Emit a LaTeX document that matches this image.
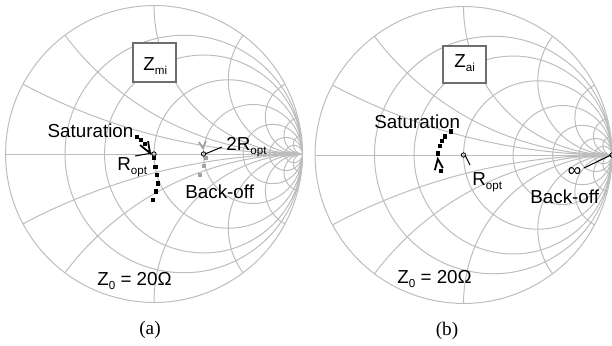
\documentclass[border=0pt]{standalone}
\usepackage{pgfplots}
\pgfplotsset{compat=1.18}
\usepgfplotslibrary{smithchart}
\usepackage{fontspec}
\setmainfont{Liberation Sans}
\newfontfamily\capfont{Liberation Serif}

\definecolor{gridgray}{HTML}{BDBDBD}
\definecolor{dotgray}{HTML}{A3A3A3}
\definecolor{boxgray}{HTML}{6E6E6E}

% low subscript like the reference (opt, mi, ai, 0)
\newcommand{\lowsub}[1]{\raisebox{-0.25em}{\fontsize{5.8bp}{6bp}\selectfont #1}}

\pgfplotsset{
  refsmith/.style={
    scale only axis, width=148.5bp, height=148.5bp,
    anchor=center, clip=false,
    xtick={0.25,0.5,1,2,4,8,16},
    ytick={-16,-8,-4,-2,-1,-0.5,-0.25,0.25,0.5,1,2,4,8,16},
    minor xtick={}, minor ytick={},
    xticklabel={\relax}, yticklabel={\relax},
    xticklabel style={opacity=0}, yticklabel style={opacity=0},
    major tick length=0pt, minor tick length=0pt,
    tick style={draw=none},
    grid=major,
    major grid style={gridgray, line width=0.5bp},
    axis line style={gridgray, line width=0.5bp},
  },
  satdots/.style={only marks, mark=square*, mark size=0.85bp, black},
  bodots/.style={only marks, mark=square*, mark size=0.8bp, dotgray},
  refpt/.style={only marks, mark=o, mark size=1.1bp, black, line width=0.4bp,
    mark options={fill=white}},
}

\begin{document}
\begin{tikzpicture}[x=0.5bp, y=0.5bp,
  lbl/.style={font=\fontsize{9.4bp}{11bp}\selectfont, inner sep=0pt}]
\useasboundingbox (0,0) rectangle (612,345);

% ---------------- (a) Z_mi ----------------
\begin{smithchart}[refsmith, at={(77bp,95.5bp)}]
% saturation sweep (reflection coefficient)
\addplot[satdots, is smithchart cs] coordinates {
  (-0.114,0.114) (-0.087,0.094) (-0.062,0.069)
  (0.000,-0.027) (0.009,-0.085) (0.018,-0.141)
  (0.025,-0.197) (0.013,-0.253) (-0.009,-0.309)
};
\addplot[black, line width=0.9bp, is smithchart cs] coordinates {
  (-0.040,0.087) (-0.027,0.007) (-0.094,0.060)
};
% back-off sweep
\addplot[bodots, is smithchart cs] coordinates {
  (0.349,-0.027) (0.336,-0.081) (0.309,-0.141)
};
\addplot[dotgray, line width=0.9bp, is smithchart cs] coordinates {
  (0.302,0.081) (0.329,0.040) (0.349,0.087)
};
\addplot[refpt, is smithchart cs] coordinates {(0,0) (0.3333,0)};
\end{smithchart}

\draw[black, line width=0.5bp] (135,189) -- (152,192);
\draw[black, line width=0.5bp] (205,191) -- (222,198);
\node[lbl, anchor=base] at (90.5,208) {Saturation};
\node[lbl, anchor=base west] at (117,175) {R\lowsub{opt}};
\node[lbl, anchor=base west] at (226,195) {2R\lowsub{opt}};
\node[lbl, anchor=base west] at (185,147) {Back-off};
\draw[boxgray, line width=0.7bp, fill=white] (133,302) rectangle (176,263);
\node[lbl, anchor=base west] at (143,275) {Z\lowsub{mi}};
\node[lbl, anchor=base west] at (97,60) {Z\lowsub{0} = 20Ω};
\node[lbl, font=\capfont\fontsize{9.6bp}{11bp}\selectfont] at (150,15) {(a)};

% ---------------- (b) Z_ai ----------------
\begin{smithchart}[refsmith, at={(231.75bp,95bp)}]
\addplot[satdots, is smithchart cs] coordinates {
  (-0.085,0.158) (-0.125,0.124) (-0.147,0.097)
  (-0.159,0.061) (-0.171,0.012) (-0.153,-0.108)
};
\addplot[black, line width=0.9bp, is smithchart cs] coordinates {
  (-0.193,-0.102) (-0.173,-0.027) (-0.139,-0.088)
};
\addplot[refpt, is smithchart cs] coordinates {(0,0) (1,0)};
\end{smithchart}

\draw[black, line width=0.5bp] (465,190) -- (470,180);
\draw[black, line width=0.5bp] (611,190) -- (584,177);
\node[lbl, anchor=base west] at (374,217) {Saturation};
\node[lbl, anchor=base west] at (472,160) {R\lowsub{opt}};
\node[lbl] at (574.5,173) {∞};
\node[lbl, anchor=base west] at (530,142) {Back-off};
\draw[boxgray, line width=0.7bp, fill=white] (443,299) rectangle (486,262);
\node[lbl, anchor=base west] at (454,278) {Z\lowsub{ai}};
\node[lbl, anchor=base west] at (397,62) {Z\lowsub{0} = 20Ω};
\node[lbl, font=\capfont\fontsize{9.6bp}{11bp}\selectfont] at (447,14) {(b)};
\end{tikzpicture}
\end{document}
